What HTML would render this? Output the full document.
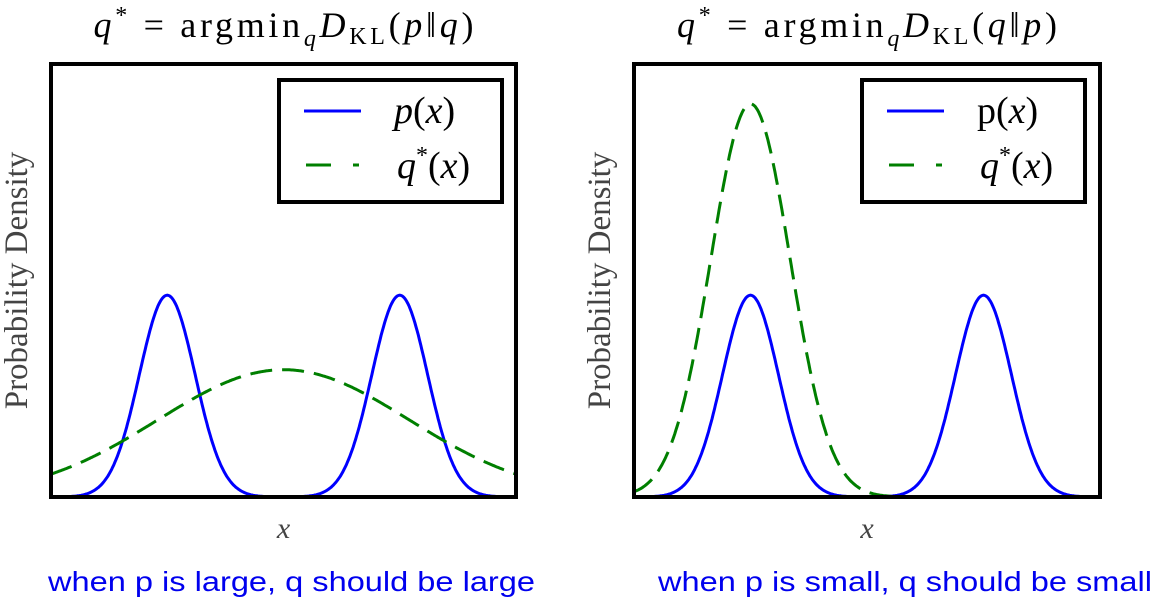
<!DOCTYPE html>
<html><head><meta charset="utf-8"><style>
html,body{margin:0;padding:0;background:#fff;width:1165px;height:609px;overflow:hidden}
svg{display:block}
.serif{font-family:"Liberation Serif","DejaVu Serif",serif}
</style></head><body>
<svg id="chart" width="1165" height="609" viewBox="0 0 1165 609">
</svg>
<script>
// data: x domain 0..10, y domain 0..1
const pMeans = [2.5, 7.5];
const pSigma = [0.6, 0.6];
const pPeak = [0.466, 0.466];
const qLeftMeans = [5];
const qLeftSigma = [2.7];
const qLeftPeak = [0.294];
const qRightMeans = [2.5];
const qRightSigma = [0.85];
const qRightPeak = [0.908];
const captions = ["when p is large, q should be large", "when p is small, q should be small"];

const NS = "http://www.w3.org/2000/svg";
const svg = document.getElementById('chart');
function mk(tag, attrs, parent){const e=document.createElementNS(NS,tag);for(const k in attrs)e.setAttribute(k,attrs[k]);(parent||svg).appendChild(e);return e;}
function mix(x, means, sig, peak){let s=0;for(let i=0;i<means.length;i++){s+=peak[i]*Math.exp(-((x-means[i])**2)/(2*sig[i]*sig[i]));}return s;}

const panels = [
 {x0:51,x1:516,y0:64,y1:497,q:[qLeftMeans,qLeftSigma,qLeftPeak],title:"p||q",cap:captions[0],capX:48},
 {x0:634,x1:1100,y0:64,y1:497,q:[qRightMeans,qRightSigma,qRightPeak],title:"q||p",cap:captions[1],capX:658}
];
panels.forEach((P,pi)=>{
  const g = mk('g',{});
  
  
  const xs = v=>P.x0+(v/10)*(P.x1-P.x0);
  const ys = v=>P.y1-v*(P.y1-P.y0);
  const cx=(P.x0+P.x1)/2;
  const t=mk('text',{x:cx-190,y:37,'font-size':36,class:'serif',textLength:380,lengthAdjust:'spacing'},g);
  
  
  const a=(P.title==="p||q")?["p","q"]:["q","p"];
  t.innerHTML='<tspan font-style="italic">q</tspan><tspan dy="-14" font-size="24">*</tspan><tspan dy="14"> = argmin</tspan><tspan dy="9" font-size="24" font-style="italic">q</tspan><tspan dy="-9" font-style="italic">D</tspan><tspan dy="7" font-size="24">KL</tspan><tspan dy="-7">(</tspan><tspan font-style="italic">'+a[0]+'</tspan><tspan>‖</tspan><tspan font-style="italic">'+a[1]+'</tspan><tspan>)</tspan>';
  const clip=mk('clipPath',{id:'c'+pi},g);mk('rect',{x:P.x0,y:P.y0,width:P.x1-P.x0,height:P.y1-P.y0},clip);
  let dp='',dq='';
  for(let i=0;i<=400;i++){const v=i/40;dp+=(i?'L':'M')+xs(v).toFixed(1)+','+ys(mix(v,pMeans,pSigma,pPeak)).toFixed(1);
    dq+=(i?'L':'M')+xs(v).toFixed(1)+','+ys(mix(v,P.q[0],P.q[1],P.q[2])).toFixed(1);}
  const lp=mk('path',{d:dp,fill:'none',stroke:'#0000ff','stroke-width':3,'clip-path':'url(#c'+pi+')'},g);
  
  
  const lq=mk('path',{d:dq,fill:'none',stroke:'#007f00','stroke-width':3,'stroke-dasharray':'22,10','clip-path':'url(#c'+pi+')'},g);
  
  
  const fr=mk('rect',{x:P.x0,y:P.y0,width:P.x1-P.x0,height:P.y1-P.y0,fill:'none',stroke:'#000','stroke-width':4},g);
  
  
  const lx=P.x0+228;
  const lg=mk('g',{},g);
  
  
  mk('rect',{x:lx,y:80,width:223,height:122,fill:'#fff',stroke:'#000','stroke-width':4},lg);
  mk('line',{x1:lx+25,x2:lx+82,y1:111,y2:111,stroke:'#0000ff','stroke-width':3},lg);
  mk('line',{x1:lx+27,x2:lx+82,y1:165,y2:165,stroke:'#007f00','stroke-width':3,'stroke-dasharray':'25,22,6,100'},lg);
  const t1=mk('text',{x:lx+115,y:123,'font-size':38,class:'serif'},lg);
  t1.innerHTML=pi===0?'<tspan font-style="italic">p</tspan>(<tspan font-style="italic">x</tspan>)':'p(<tspan font-style="italic">x</tspan>)';
  const t2=mk('text',{x:lx+118,y:178,'font-size':38,class:'serif'},lg);
  t2.innerHTML='<tspan font-style="italic">q</tspan><tspan dy="-15" font-size="24">*</tspan><tspan dy="15">(</tspan><tspan font-style="italic">x</tspan>)';
  const yl=mk('text',{x:0,y:0,transform:'translate('+(P.x0-24)+','+((P.y0+P.y1)/2)+') rotate(-90)','text-anchor':'middle','font-size':33,fill:'#444',class:'serif'},g);
  yl.textContent='Probability Density';
  
  
  const xl=mk('text',{x:cx,y:538,'text-anchor':'middle','font-size':30,'font-style':'italic',fill:'#444',class:'serif'},g);
  xl.textContent='x';
  
  
  const cp=mk('text',{x:P.capX,y:591,'font-size':28,fill:'#0000ee','font-family':'"Liberation Sans",Arial,sans-serif',textLength:(pi===0?487:494),lengthAdjust:'spacingAndGlyphs'},g);
  cp.textContent=P.cap;
  
  
});
</script>
</body></html>
